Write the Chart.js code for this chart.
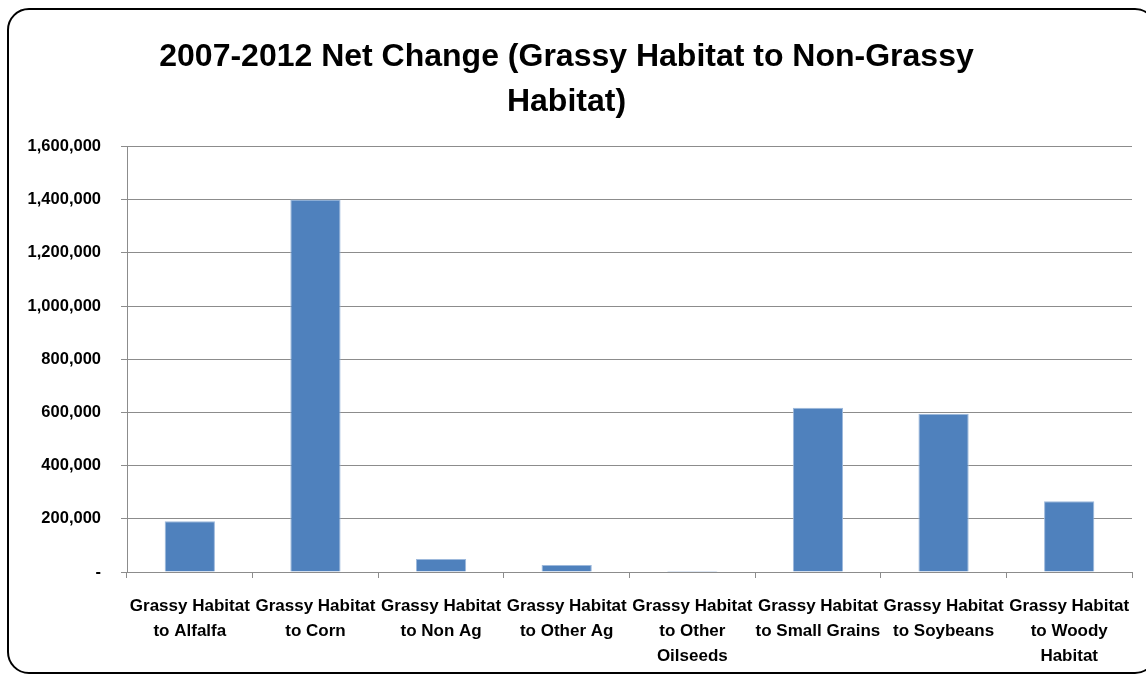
<!DOCTYPE html>
<html>
<head>
<meta charset="utf-8">
<script src="https://cdn.jsdelivr.net/npm/chart.js@4.4.1/dist/chart.umd.min.js"></script>
<style>
  body { margin: 0; background: #fff; }
  #wrap { position: relative; width: 1146px; height: 675px; overflow: hidden; }
  #frame {
    position: absolute; left: 7px; top: 8px; width: 1150px; height: 666px;
    border: 2px solid #000; border-radius: 22px; box-sizing: border-box;
  }
  canvas { position: absolute; left: 0; top: 0; }
</style>
</head>
<body>
<div id="wrap">
  <div id="frame"></div>
  <canvas id="chart" width="1146" height="675"></canvas>
</div>
<script>
// categories and values
const categories = [
  ["Grassy Habitat", "to Alfalfa"],
  ["Grassy Habitat", "to Corn"],
  ["Grassy Habitat", "to Non Ag"],
  ["Grassy Habitat", "to Other Ag"],
  ["Grassy Habitat", "to Other", "Oilseeds"],
  ["Grassy Habitat", "to Small Grains"],
  ["Grassy Habitat", "to Soybeans"],
  ["Grassy Habitat", "to Woody", "Habitat"]
];
const netChange = [191000, 1401000, 49000, 26000, 4000, 618000, 595000, 266000];
const chartTitle = ["2007-2012 Net Change (Grassy Habitat to Non-Grassy", "Habitat)"];

const labelFont = "'Liberation Sans', Arial, sans-serif";

const ctx = document.getElementById("chart").getContext("2d");
new Chart(ctx, {
  type: "bar",
  data: {
    labels: categories,
    datasets: [{
      data: netChange,
      backgroundColor: "#4F81BD",
      borderColor: "#9DB9DC", // thin light edge like the reference bars
      borderWidth: { left: 1, right: 1, top: 1, bottom: 0 },
      categoryPercentage: 1,
      barPercentage: 0.4
    }]
  },
  options: {
    responsive: false,
    animation: false,
    layout: { padding: { left: 0, right: 13, top: 0, bottom: 0 } },
    plugins: {
      legend: { display: false },
      tooltip: { enabled: false },
      title: {
        display: true,
        text: chartTitle,
        color: "#000",
        font: { family: labelFont, size: 32, weight: "bold", lineHeight: 1.4 },
        padding: { top: 35, bottom: 22 }
      }
    },
    scales: {
      y: {
        min: 0,
        max: 1600000,
        ticks: {
          stepSize: 200000,
          color: "#000",
          padding: 20,
          font: { family: labelFont, size: 16.5, weight: "bold" },
          callback: (v) => v === 0 ? "-" : v.toLocaleString("en-US")
        },
        grid: { color: "#8c8c8c", lineWidth: 1, tickLength: 6 },
        border: { color: "#8c8c8c", width: 1 },
        afterFit: (scale) => { scale.width = 127; }
      },
      x: {
        ticks: {
          color: "#000",
          maxRotation: 0,
          autoSkip: false,
          padding: 16,
          font: { family: labelFont, size: 17, weight: "bold", lineHeight: 1.47 }
        },
        grid: { drawOnChartArea: false, offset: true, color: "#8c8c8c", tickLength: 6 },
        border: { color: "#8c8c8c", width: 1 },
        afterFit: (scale) => { scale.height = 103; }
      }
    }
  }
});
</script>
</body>
</html>
